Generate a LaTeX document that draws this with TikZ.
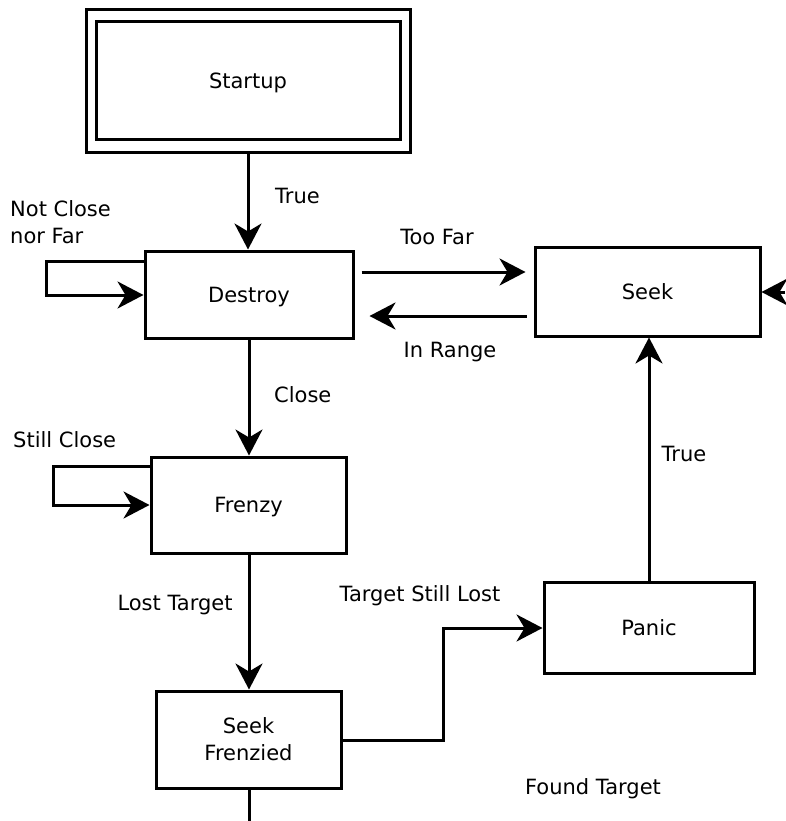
\documentclass[tikz,border=0pt]{standalone}
\usepackage{fontspec}
\setmainfont{DejaVu Sans}
\usetikzlibrary{arrows.meta}
\begin{document}
\begin{tikzpicture}[x=1pt,y=-1pt,
  every node/.style={font=\fontsize{21}{27}\selectfont},
  state/.style={draw,line width=3pt,rectangle,inner sep=0pt,align=center},
  oneline/.style={text height=15.3pt,text depth=0pt},
  lbl/.style={inner sep=0pt,align=left},
  link/.style={line width=3pt},
  arr/.style={line width=3pt,-{Stealth[length=26pt,width=27pt,inset=8pt]}}]
\useasboundingbox (0,0) rectangle (785,821);

% states
\node[state,minimum width=324pt,minimum height=143pt] (startupouter) at (248,81.5) {};
\node[state,oneline,minimum width=304pt,minimum height=118pt] (startup) at (248,81) {Startup};
\node[state,oneline,minimum width=208pt,minimum height=87pt] (destroy) at (249,294.5) {Destroy};
\node[state,oneline,minimum width=225pt,minimum height=89pt] (seek) at (647.5,291.5) {Seek};
\node[state,oneline,minimum width=195pt,minimum height=96pt] (frenzy) at (248.5,505) {Frenzy};
\node[state,minimum width=185pt,minimum height=97pt] (seekfr) at (248.5,739.5) {Seek\\Frenzied};
\node[state,oneline,minimum width=210pt,minimum height=91pt] (panic) at (649,627.5) {Panic};

% free ends and bends
\coordinate (rightin) at (785,292);
\coordinate (bottomout) at (249,821);
\coordinate (loopA1) at (46,261);
\coordinate (loopA2) at (46,295);
\coordinate (loopB1) at (53,466);
\coordinate (loopB2) at (53,505);
\coordinate (bend1) at (443,740);
\coordinate (bend2) at (443,628);

% transitions
\draw[arr] (startupouter.south -| 248,0) -- (destroy.north -| 248,0);
\draw[arr,shorten <=7pt,shorten >=8pt] (destroy.east |- 0,272) -- (seek.west |- 0,272);
\draw[arr,shorten <=7pt,shorten >=15pt] (seek.west |- 0,316) -- (destroy.east |- 0,316);
\draw[arr] (rightin) -- (seek.east |- rightin);
\draw[arr] (destroy.west |- loopA1) -- (loopA1) -- (loopA2) -- (destroy.west |- loopA2);
\draw[arr] (destroy.south) -- (frenzy.north -| destroy.south);
\draw[arr] (frenzy.west |- loopB1) -- (loopB1) -- (loopB2) -- (frenzy.west |- loopB2);
\draw[arr] (frenzy.south -| 249,0) -- (seekfr.north -| 249,0);
\draw[arr] (seekfr.east |- bend1) -- (bend1) -- (bend2) -- (panic.west |- bend2);
\draw[arr] (panic.north) -- (seek.south -| panic.north);
\draw[link] (seekfr.south -| bottomout) -- (bottomout);

% labels
\node[lbl,anchor=west] (tTrue1) at (275,196) {True};
\node[lbl,anchor=north west] (tNotClose) at (10,200) {Not Close\\nor Far};
\node[lbl] (tTooFar) at (437,237) {Too Far};
\node[lbl] (tInRange) at (450,352) {In Range};
\node[lbl,anchor=west] (tClose) at (274,395) {Close};
\node[lbl,anchor=west] (tStill) at (13,440) {Still Close};
\node[lbl] (tTrue2) at (684,454) {True};
\node[lbl] (tLost) at (175,605) {Lost Target};
\node[lbl] (tStillLost) at (420,596) {Target Still Lost};
\node[lbl] (tFound) at (593,789) {Found Target};
\end{tikzpicture}
\end{document}
